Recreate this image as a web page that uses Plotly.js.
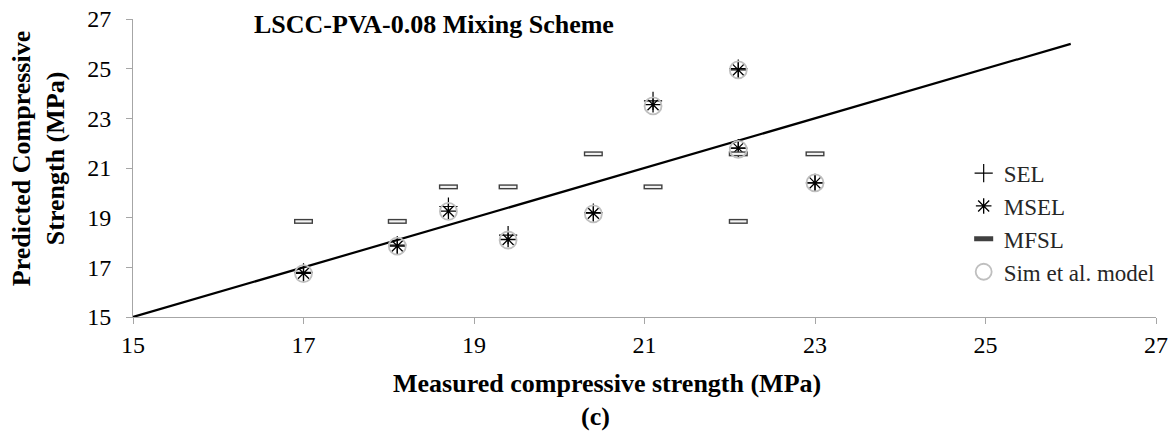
<!DOCTYPE html>
<html>
<head>
<meta charset="utf-8">
<script src="https://cdn.plot.ly/plotly-3.0.1.min.js"></script>
<style>html,body{margin:0;padding:0;background:#fff;}#chart{width:1174px;height:439px;}</style>
</head>
<body>
<div id="chart"></div>
<script>
// Data
const measured = [17.0, 18.1, 18.7, 19.4, 20.4, 21.1, 22.1, 22.1, 23.0];
const sel      = [16.8, 17.9, 19.45, 18.3, 19.2, 23.7, 25.0, 21.8, 20.4];
const msel     = [16.76, 17.86, 19.26, 18.12, 19.18, 23.55, 24.95, 21.8, 20.4];
const mfsl     = [18.85, 18.85, 20.24, 20.24, 21.57, 20.24, 18.85, 21.57, 21.57];
const sim      = [16.75, 17.85, 19.25, 18.1, 19.15, 23.5, 24.95, 21.75, 20.4];
const lineX    = [15, 26];
const lineY    = [15, 26];
const tickVals = [15, 17, 19, 21, 23, 25, 27];
const seriesNames = ["SEL", "MSEL", "MFSL", "Sim et al. model"];

const serif = "Liberation Serif, Times New Roman, serif";

const traces = [
  {x: lineX, y: lineY, mode: "lines", line: {color: "#000", width: 2.2}, showlegend: false, hoverinfo: "skip"},
  {x: measured, y: sel, mode: "markers", name: seriesNames[0],
   marker: {symbol: "cross-thin-open", size: 13, color: "#000", line: {color: "#000", width: 1.2}}},
  {x: measured, y: msel, mode: "markers", name: seriesNames[1],
   marker: {symbol: "asterisk-open", size: 13, color: "#000", line: {color: "#000", width: 1.3}}},
  {x: measured, y: mfsl, mode: "markers", name: seriesNames[2], legendgroup: "mfsl",
   marker: {symbol: "line-ew-open", size: 13.6, color: "#404040", line: {color: "#404040", width: 5}}},
  {x: measured, y: mfsl, mode: "markers", showlegend: false, legendgroup: "mfsl", hoverinfo: "skip",
   marker: {symbol: "line-ew-open", size: 11.6, color: "#f4f4f4", line: {color: "#f4f4f4", width: 2.2}}},
  {x: measured, y: sim, mode: "markers", name: seriesNames[3],
   marker: {symbol: "circle-open", size: 17, color: "#bfbfbf", line: {color: "#bfbfbf", width: 1.8}}}
];

const axisCommon = {
  range: [15, 27], tickvals: tickVals, ticktext: tickVals.map(String),
  showgrid: false, zeroline: false, showline: true, linecolor: "#a6a6a6", linewidth: 1,
  ticks: "outside", ticklen: 6, tickcolor: "#a6a6a6", tickwidth: 1,
  tickfont: {family: serif, size: 24, color: "#000"}, fixedrange: true
};

const layout = {
  width: 1174, height: 439,
  margin: {l: 133, r: 18, t: 19, b: 121.5},
  paper_bgcolor: "#fff", plot_bgcolor: "#fff",
  font: {family: serif, color: "#000"},
  xaxis: Object.assign({}, axisCommon, {ticklabelstandoff: 0}),
  yaxis: Object.assign({}, axisCommon, {ticklabelstandoff: 10}),
  showlegend: true,
  legend: {x: 0.812, y: 0.555, xanchor: "left", yanchor: "top",
           font: {family: serif, size: 23, color: "#262626"}, bgcolor: "rgba(0,0,0,0)",
           tracegroupgap: 0, itemwidth: 30},
  annotations: [
    {text: "<b>LSCC-PVA-0.08 Mixing Scheme</b>", xref: "paper", yref: "paper", x: 0.1163, y: 0.983,
     xanchor: "left", yanchor: "middle", showarrow: false, font: {family: serif, size: 26, color: "#000"}},
    {text: "<b>Measured compressive strength (MPa)</b>", xref: "paper", yref: "paper", x: 0.463, y: -0.222,
     xanchor: "center", yanchor: "middle", showarrow: false, font: {family: serif, size: 26, color: "#000"}},
    {text: "<b>(c)</b>", xref: "paper", yref: "paper", x: 0.452, y: -0.333,
     xanchor: "center", yanchor: "middle", showarrow: false, font: {family: serif, size: 26, color: "#000"}},
    {text: "<b>Predicted Compressive<br>Strength (MPa)</b>", xref: "paper", yref: "paper", x: -0.0929, y: 0.533,
     xanchor: "center", yanchor: "middle", textangle: -90, showarrow: false,
     font: {family: serif, size: 26, color: "#000"}}
  ]
};

Plotly.newPlot("chart", traces, layout, {staticPlot: true, displayModeBar: false});
</script>
</body>
</html>
